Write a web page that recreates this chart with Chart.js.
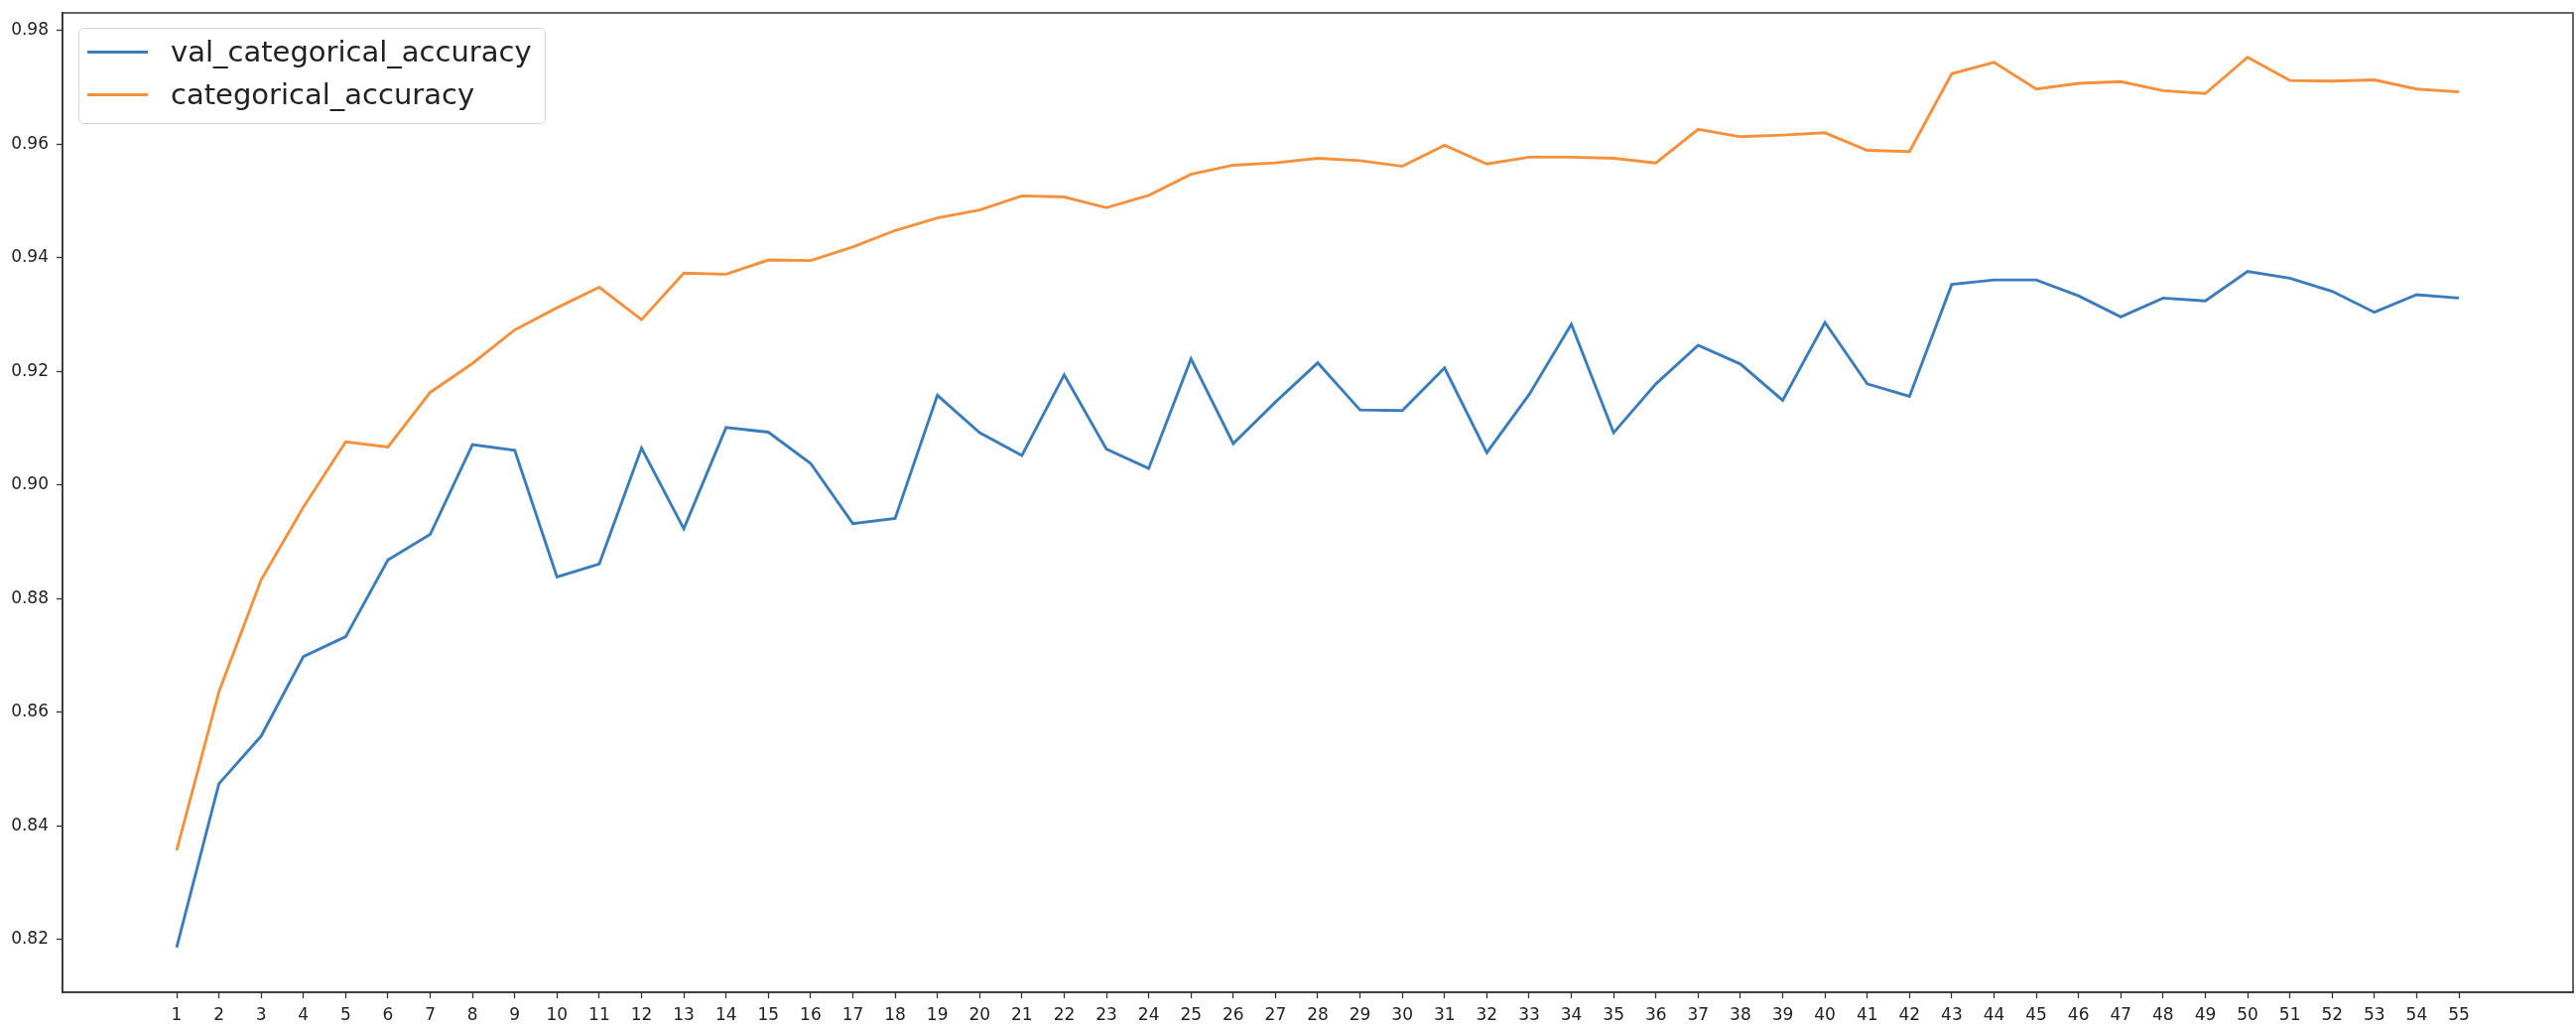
<!DOCTYPE html>
<html>
<head>
<meta charset="utf-8">
<script src="https://cdn.jsdelivr.net/npm/chart.js@4.4.1/dist/chart.umd.min.js"></script>
<style>
    html, body { margin: 0; padding: 0; background: #fff; }
    #wrap { position: relative; width: 2596px; height: 1038px; }
    #legend {
        position: absolute; left: 79px; top: 28px; width: 469px; height: 95px;
        border: 1px solid #d6d6d6; border-radius: 5px; background: rgba(255,255,255,0.8);
        font-family: "DejaVu Sans", sans-serif; font-size: 29px; color: #222;
    }
    .row { position: absolute; left: 0; height: 40px; width: 100%; }
    .row .swatch { position: absolute; left: 8px; top: 18px; width: 61px; height: 3px; }
    .row .label { position: absolute; left: 92px; top: 1px; line-height: 36px; white-space: nowrap; }
</style>
</head>
<body>
<div id="wrap">
    <canvas id="accChart" width="2596" height="1038"></canvas>
    <div id="legend"></div>
</div>
<script>
const epochs = [1, 2, 3, 4, 5, 6, 7, 8, 9, 10, 11, 12, 13, 14, 15, 16, 17, 18, 19, 20,
    21, 22, 23, 24, 25, 26, 27, 28, 29, 30, 31, 32, 33, 34, 35, 36, 37, 38, 39, 40,
    41, 42, 43, 44, 45, 46, 47, 48, 49, 50, 51, 52, 53, 54, 55];

const valAccuracy = [0.8186, 0.8474, 0.8558, 0.8698, 0.8733, 0.8868, 0.8913, 0.9071, 0.9061, 0.8838,
    0.8861, 0.9065, 0.8923, 0.9101, 0.9093, 0.9038, 0.8932, 0.8941, 0.9158, 0.9092,
    0.9052, 0.9194, 0.9063, 0.9029, 0.9222, 0.9073, 0.9146, 0.9215, 0.9132, 0.9131,
    0.9206, 0.9057, 0.9159, 0.9283, 0.9092, 0.9178, 0.9246, 0.9213, 0.9149, 0.9286,
    0.9178, 0.9156, 0.9353, 0.9361, 0.9361, 0.9333, 0.9296, 0.9329, 0.9324, 0.9376,
    0.9364, 0.9341, 0.9304, 0.9335, 0.9329];

const trainAccuracy = [0.8357, 0.8636, 0.8833, 0.8961, 0.9076, 0.9067, 0.9163, 0.9214, 0.9273, 0.9312,
    0.9348, 0.9291, 0.9373, 0.9371, 0.9396, 0.9395, 0.9419, 0.9448, 0.9470, 0.9484,
    0.9509, 0.9507, 0.9488, 0.9510, 0.9547, 0.9563, 0.9567, 0.9575, 0.9571, 0.9561,
    0.9598, 0.9565, 0.9577, 0.9577, 0.9575, 0.9567, 0.9626, 0.9613, 0.9616, 0.9620,
    0.9589, 0.9587, 0.9724, 0.9744, 0.9697, 0.9707, 0.9710, 0.9694, 0.9689, 0.9753,
    0.9712, 0.9711, 0.9713, 0.9697, 0.9692];

const yTicks = [0.82, 0.84, 0.86, 0.88, 0.90, 0.92, 0.94, 0.96, 0.98];

const seriesNames = ['val_categorical_accuracy', 'categorical_accuracy'];
const seriesColors = ['#3a7dba', '#f5913c'];

const tickFont = { family: 'DejaVu Sans', size: 17 };

// matplotlib-style full frame around the plot area
const framePlugin = {
    id: 'frame',
    afterDraw(chart) {
        const a = chart.chartArea;
        const ctx = chart.ctx;
        ctx.save();
        ctx.strokeStyle = '#333';
        ctx.lineWidth = 1.5;
        ctx.strokeRect(a.left, a.top, a.right - a.left, a.bottom - a.top);
        ctx.restore();
    }
};

function toPoints(values) {
    return epochs.map((e, i) => ({ x: e, y: values[i] }));
}

const ctx = document.getElementById('accChart').getContext('2d');
const accChart = new Chart(ctx, {
    type: 'line',
    data: {
        datasets: [
            {
                label: seriesNames[0],
                data: toPoints(valAccuracy),
                borderColor: seriesColors[0],
                borderWidth: 2.9,
                pointRadius: 0,
                tension: 0,
                fill: false
            },
            {
                label: seriesNames[1],
                data: toPoints(trainAccuracy),
                borderColor: seriesColors[1],
                borderWidth: 2.9,
                pointRadius: 0,
                tension: 0,
                fill: false
            }
        ]
    },
    options: {
        responsive: false,
        animation: false,
        layout: {
            padding: { top: 13, right: 3, left: 0, bottom: 0 }
        },
        plugins: {
            legend: { display: false },
            tooltip: { enabled: false }
        },
        scales: {
            x: {
                type: 'linear',
                min: -1.7,
                max: 57.7,
                afterBuildTicks: (axis) => {
                    axis.ticks = epochs.map(v => ({ value: v }));
                },
                afterFit: (axis) => {
                    axis.height = 38;
                    axis.paddingLeft = 0;
                    axis.paddingRight = 0;
                },
                ticks: {
                    autoSkip: false,
                    maxRotation: 0,
                    color: '#222',
                    font: tickFont,
                    padding: 7
                },
                grid: {
                    drawOnChartArea: false,
                    drawTicks: true,
                    tickLength: 6,
                    tickColor: '#333',
                    tickWidth: 1.3
                },
                border: { color: '#333', width: 1.5 }
            },
            y: {
                type: 'linear',
                min: 0.8107,
                max: 0.9831,
                afterBuildTicks: (axis) => {
                    axis.ticks = yTicks.map(v => ({ value: v }));
                },
                afterFit: (axis) => {
                    axis.width = 63;
                    axis.paddingTop = 0;
                    axis.paddingBottom = 0;
                },
                ticks: {
                    color: '#222',
                    font: tickFont,
                    padding: 8,
                    callback: (v) => Number(v).toFixed(2)
                },
                grid: {
                    drawOnChartArea: false,
                    drawTicks: true,
                    tickLength: 6,
                    tickColor: '#333',
                    tickWidth: 1.3
                },
                border: { color: '#333', width: 1.5 }
            }
        }
    },
    plugins: [framePlugin]
});

// legend box in the upper left corner, like matplotlib's
const legendBox = document.getElementById('legend');
accChart.data.datasets.forEach((ds, i) => {
    const row = document.createElement('div');
    row.className = 'row';
    row.style.top = (4 + i * 43) + 'px';
    const sw = document.createElement('div');
    sw.className = 'swatch';
    sw.style.background = ds.borderColor;
    const lb = document.createElement('div');
    lb.className = 'label';
    lb.textContent = ds.label;
    row.appendChild(sw);
    row.appendChild(lb);
    legendBox.appendChild(row);
});
</script>
</body>
</html>
